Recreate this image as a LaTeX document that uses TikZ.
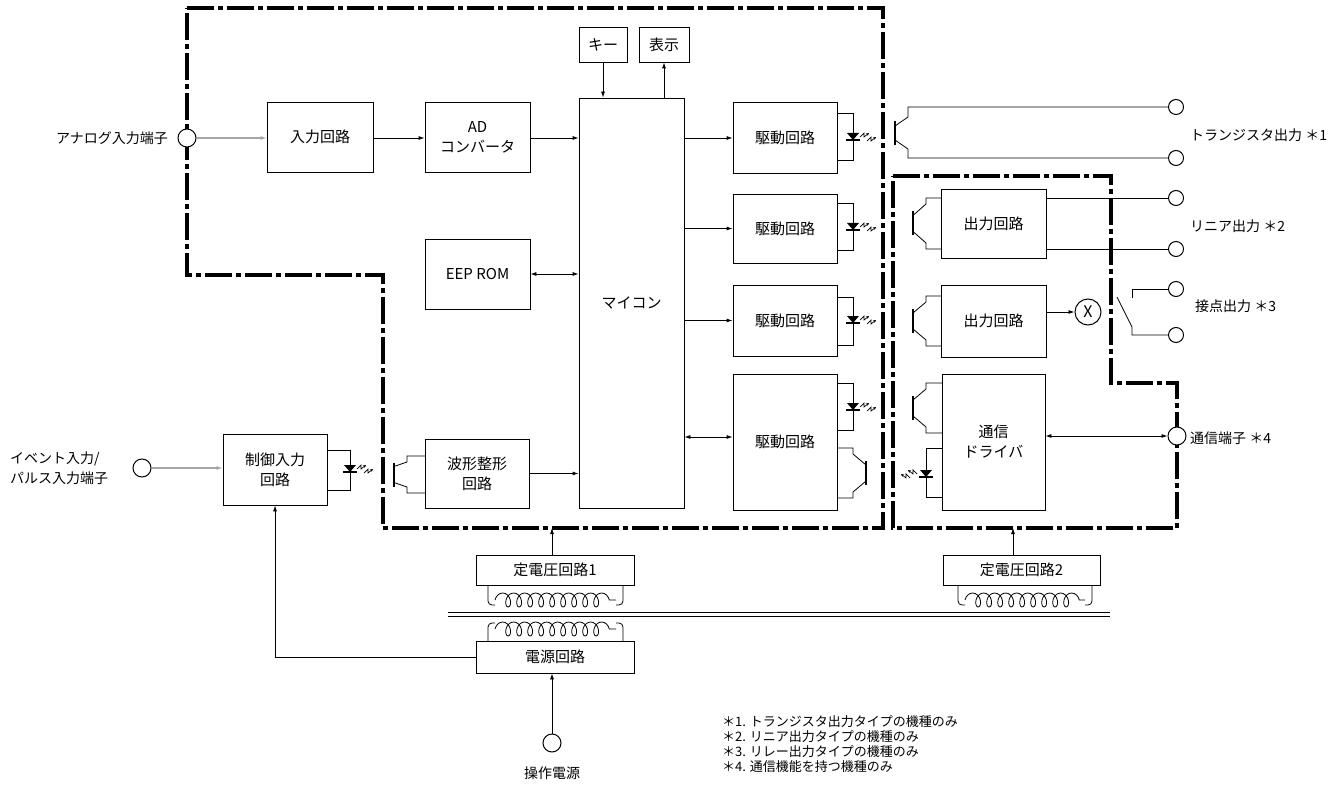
\documentclass[tikz,border=0pt]{standalone}
\usepackage{fontspec}
\setmainfont{Noto Sans CJK JP}
\usetikzlibrary{arrows.meta,decorations.pathmorphing,calc}
\newcommand\dioded[2]{%
  \fill (#1-6,#2-4) -- (#1+6,#2-4) -- (#1,#2+3) -- cycle;
  \draw[line width=1.5pt] (#1-7,#2+3) -- (#1+7,#2+3);}
\newcommand\ledloop[4]{% box x, loop x, top y, bottom y
  \draw[wire] (#1,#3) -- (#2,#3) -- (#2,#4) -- (#1,#4);}
\newcommand\zapR[2]{%
  \draw[zap] (#1,#2+1) -- (#1+4,#2-3) -- (#1+4,#2+1) -- (#1+9,#2-3);
  \draw[zap] (#1+7,#2+5) -- (#1+11,#2+1) -- (#1+11,#2+5) -- (#1+16,#2+1);}
\newcommand\zapL[2]{%
  \draw[zap] (#1,#2+1) -- (#1-4,#2-3) -- (#1-4,#2+1) -- (#1-9,#2-3);
  \draw[zap] (#1-7,#2+5) -- (#1-11,#2+1) -- (#1-11,#2+5) -- (#1-16,#2+1);}
\newcommand\trans[5]{% bar x, knee x, box x, top y, bottom y
  \draw[wire] (#3,#4) -- (#2,#4) -- (#2,#4+6) -- (#1,{(#4+#5)/2-8});
  \draw[line width=1.2pt] (#1,{(#4+#5)/2-12}) -- (#1,{(#4+#5)/2+12});
  \draw[wire] (#1,{(#4+#5)/2+8}) -- (#2,#5-6) -- (#2,#5) -- (#3,#5);}
\begin{document}
\begin{tikzpicture}[x=1pt,y=-1pt,
  box/.style={draw,line width=0.8pt,inner sep=0pt,align=center,font=\fontsize{15}{20}\selectfont},
  arr/.style={-{Latex[length=6pt,width=4pt]},line width=0.8pt},
  darr/.style={{Latex[length=6pt,width=4pt]}-{Latex[length=6pt,width=4pt]},line width=0.8pt},
  garr/.style={-{Latex[length=6pt,width=4pt]},line width=1.3pt,draw=gray!70,fill=black},
  wire/.style={line width=0.8pt},
  zap/.style={line width=0.7pt,-{Stealth[length=3pt,width=3pt]}},
  bound/.style={line width=4.5pt,dash pattern=on 27pt off 4pt on 5pt off 4pt,line join=miter},
  term/.style={circle,draw,fill=white,line width=1pt,inner sep=0pt,minimum size=18pt},
  sterm/.style={circle,draw,fill=white,line width=1pt,inner sep=0pt,minimum size=15pt},
  lbl/.style={font=\fontsize{14}{20}\selectfont,inner sep=0pt},
  coilst/.style={wire,decorate,decoration={coil,amplitude=7pt,segment length=11pt,aspect=0.7}},
  ]
\useasboundingbox (0,0) rectangle (1343,794);

% boundaries
\draw[bound] (187,8) -- (883,8) -- (883,528) -- (383,528) -- (383,275) -- (187,275) -- cycle;
\draw[bound] (893,176) -- (1111,176) -- (1111,383) -- (1177,383) -- (1177,528) -- (893,528) -- cycle;

% boxes
\node[box,minimum width=106pt,minimum height=70pt] (inp) at (320,137) {入力回路};
\node[box,minimum width=105pt,minimum height=70pt] (ad) at (477.5,137) {AD\\コンバータ};
\node[box,minimum width=105pt,minimum height=70pt] (eep) at (477.5,274) {EEP ROM};
\node[box,minimum width=48pt,minimum height=35pt] (key) at (603,44.5) {キー};
\node[box,minimum width=50pt,minimum height=35pt] (disp) at (664,44.5) {表示};
\node[box,minimum width=105pt,minimum height=410pt] (mc) at (631.5,303) {マイコン};
\node[box,minimum width=104pt,minimum height=71pt] (drv1) at (785,137.5) {駆動回路};
\node[box,minimum width=104pt,minimum height=69pt] (drv2) at (785,228.5) {駆動回路};
\node[box,minimum width=104pt,minimum height=71pt] (drv3) at (785,320.5) {駆動回路};
\node[box,minimum width=104pt,minimum height=136pt] (drv4) at (785,442) {駆動回路};
\node[box,minimum width=105pt,minimum height=69pt] (out1) at (993.5,223.5) {出力回路};
\node[box,minimum width=105pt,minimum height=72pt] (out2) at (993.5,321) {出力回路};
\node[box,minimum width=103pt,minimum height=136pt] (comm) at (993.5,442) {通信\\ドライバ};
\node[box,minimum width=104pt,minimum height=71pt] (ctl) at (275,469.5) {制御入力\\回路};
\node[box,minimum width=104pt,minimum height=69pt] (wave) at (477,473.5) {波形整形\\回路};
\node[box,minimum width=158pt,minimum height=30pt] (reg1) at (555,570) {定電圧回路1};
\node[box,minimum width=158pt,minimum height=32pt] (psu) at (555,657) {電源回路};
\node[box,minimum width=157pt,minimum height=30pt] (reg2) at (1021.5,570) {定電圧回路2};
\node[circle,draw,line width=1pt,inner sep=0pt,minimum size=26pt,font=\fontsize{16}{16}\selectfont] (rl) at (1088,312) {X};

% terminals
\node[term] (ain) at (187,138) {};
\node[term] (ein) at (142,468) {};
\node[term] (pwr) at (552,743) {};
\node[term] (tcomm) at (1177,436) {};
\node[sterm] (tt1) at (1176,107) {};
\node[sterm] (tt2) at (1176,158) {};
\node[sterm] (tl1) at (1176,198) {};
\node[sterm] (tl2) at (1176,249) {};
\node[sterm] (tr1) at (1176,289) {};
\node[sterm] (tr2) at (1176,335) {};
\coordinate (b1) at (552,528);
\coordinate (b2) at (1013,528);
\coordinate (d4) at ($(drv4.west)+(0,-5)$);

% connectors
\draw[garr] (ain.east) -- (inp.west |- ain.east);
\draw[arr] (inp.east |- ain.east) -- (ad.west |- ain.east);
\draw[arr] (ad.east |- ain.east) -- (mc.west |- ain.east);
\draw[darr] (eep.east) -- (mc.west |- eep.east);
\draw[arr] (key.south) -- (key.south |- mc.north);
\draw[arr] (disp.south |- mc.north) -- (disp.south);
\draw[arr] (mc.east |- ain.east) -- (drv1.west |- ain.east);
\draw[arr] (mc.east |- drv2.west) -- (drv2.west);
\draw[arr] (mc.east |- drv3.west) -- (drv3.west);
\draw[darr] (mc.east |- d4) -- (d4);
\draw[garr] (ein.east) -- (ctl.west |- ein.east);
\draw[arr] (wave.east) -- (mc.west |- wave.east);
\draw[arr] (out2.east |- rl) -- (rl.west);
\draw[darr] (comm.east |- tcomm) -- (tcomm.west);
\draw[arr] (b1 |- reg1.north) -- (b1);
\draw[arr] (b2 |- reg2.north) -- (b2);
\draw[arr] (psu.west) -| (ctl.south);
\draw[arr] (pwr.north) -- (pwr.north |- psu.south);
\draw[wire] (out1.east |- tl1) -- (tl1.west);
\draw[wire] (out1.east |- tl2) -- (tl2.west);

% transistor output (outside)
\draw[line width=1.2pt] (895,121) -- (895,145);
\draw[wire] (tt1.west) -- (908,107) -- (908,117) -- (895,126);
\draw[wire] (895,140) -- (908,149) -- (908,158) -- (tt2.west);

% relay contact
\draw[wire] (tr1.west) -- (1132,289) -- (1132,298);
\draw[wire] (1117,297) -- (1132,327) -- (1132,335) -- (tr2.west);

% LEDs on drive circuits
\ledloop{837}{853}{113}{160}\dioded{853}{137}\zapR{860}{136}
\ledloop{837}{853}{203}{250}\dioded{853}{227}\zapR{860}{226}
\ledloop{837}{853}{297}{345}\dioded{853}{320}\zapR{860}{319}
\ledloop{837}{853}{383}{430}\dioded{853}{407}\zapR{860}{406}
\trans{866}{853}{837}{448}{498}
% control input LED and wave transistor
\ledloop{327}{350}{450}{490}\dioded{350}{469}\zapR{357}{468}
\trans{394}{407}{425}{456}{493}
% output circuit transistors
\trans{913}{926}{941}{198}{249}
\trans{913}{926}{941}{296}{346}
\trans{913}{926}{942}{383}{433}
% comm LED
\ledloop{942}{926}{448}{497}\dioded{926}{474}\zapL{917}{473}

% transformer coils
\draw[wire,rounded corners=4pt] (488,585) -- (488,605) -- (495,605);
\draw[wire,rounded corners=4pt] (623,585) -- (623,605) -- (616,605);
\draw[coilst] (495,600) -- (616,600);
\draw[wire] (448,612) -- (1110,612);
\draw[wire] (448,616) -- (1110,616);
\draw[wire,rounded corners=4pt] (488,641) -- (488,623) -- (495,623);
\draw[wire,rounded corners=4pt] (623,641) -- (623,623) -- (616,623);
\draw[coilst] (495,629) -- (616,629);
\draw[wire,rounded corners=4pt] (958,585) -- (958,605) -- (965,605);
\draw[wire,rounded corners=4pt] (1092,585) -- (1092,605) -- (1085,605);
\draw[coilst] (965,600) -- (1085,600);

% labels
\node[lbl,anchor=east] (lain) at (168,138) {アナログ入力端子};
\node[lbl,anchor=west,align=left] (lein) at (10,468) {イベント入力/\\パルス入力端子};
\node[lbl] (lpwr) at (552,773) {操作電源};
\node[lbl,anchor=west] (ltt) at (1190,135) {トランジスタ出力 ＊1};
\node[lbl,anchor=west] (ltl) at (1190,226) {リニア出力 ＊2};
\node[lbl,anchor=west] (ltr) at (1195,306) {接点出力 ＊3};
\node[lbl,anchor=west] (ltc) at (1190,438) {通信端子 ＊4};
\node[lbl,anchor=north west,align=left,font=\fontsize{13}{15.2}\selectfont] (notes) at (722,715)
  {＊1. トランジスタ出力タイプの機種のみ\\＊2. リニア出力タイプの機種のみ\\＊3. リレー出力タイプの機種のみ\\＊4. 通信機能を持つ機種のみ};
\end{tikzpicture}
\end{document}
